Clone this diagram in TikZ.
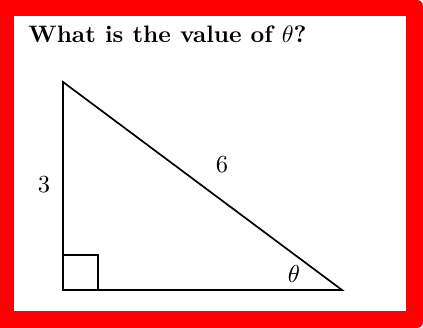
\documentclass[tikz,border=0pt]{standalone}
\begin{document}
\begin{tikzpicture}[x=1pt,y=-1pt,
  side/.style={draw=black,line width=1.7pt,line join=miter},
  lbl/.style={inner sep=0pt,scale=2.45},
  titletext/.style={inner sep=0pt,anchor=base west,scale=2.38,font=\bfseries}]
\useasboundingbox (0,0) rectangle (423,328);
% red frame
\fill[red,rounded corners=6pt] (0,0) rectangle (423,328);
\fill[red] (0,0) rectangle (30,328);
\fill[white] (14,16) rectangle (406,311);
% title
\node[titletext] (title) at (28,43) {What is the value of $\theta$?};
% triangle
\coordinate (A) at (63,82);
\coordinate (B) at (63,290);
\coordinate (C) at (342,290);
\draw[side] (A) -- (B) -- (C) -- cycle;
\coordinate (S1) at (63,255);
\coordinate (S2) at (98,255);
\coordinate (S3) at (98,290);
\draw[side] (S1) -- (S2) -- (S3);
% labels
\node[lbl] (l3) at (44,185) {$3$};
\node[lbl] (l6) at (222,165) {$6$};
\node[lbl] (lt) at (294,274) {$\theta$};
\end{tikzpicture}
\end{document}
